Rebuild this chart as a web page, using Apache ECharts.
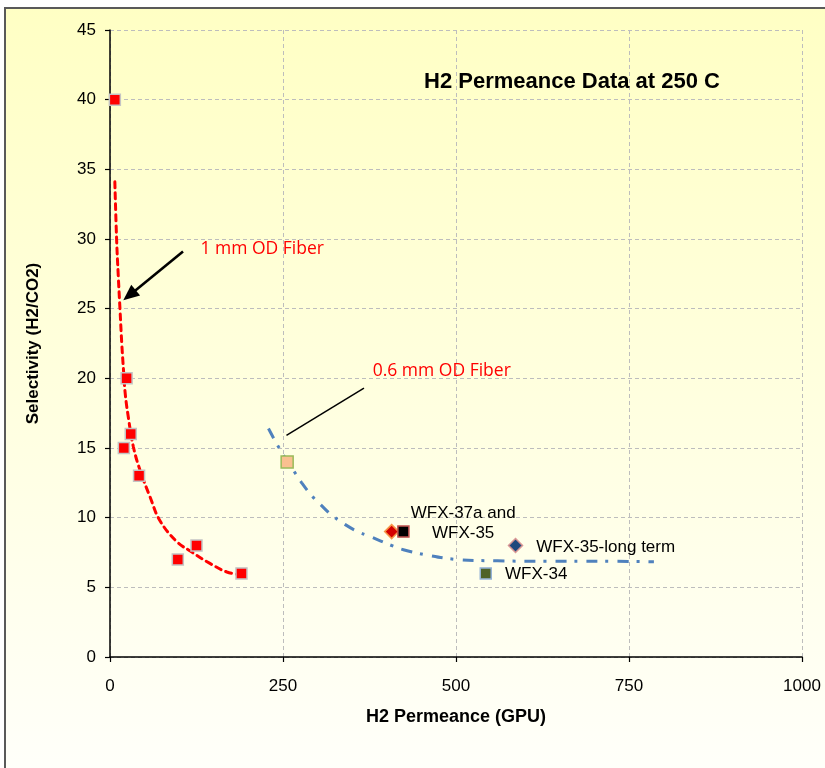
<!DOCTYPE html>
<html>
<head>
<meta charset="utf-8">
<script src="https://cdn.jsdelivr.net/npm/echarts@6/dist/echarts.min.js"></script>
<style>
  html, body { margin: 0; padding: 0; background: #ffffff; }
  #chart { width: 825px; height: 768px; }
</style>
</head>
<body>
<div id="chart"></div>
<script>
// Axis ranges and ticks
const xTicks = [0, 250, 500, 750, 1000];
const yTicks = [0, 5, 10, 15, 20, 25, 30, 35, 40, 45];

// 1 mm OD fiber measurements: H2 permeance (GPU) and H2/CO2 selectivity
const fiber1mmPermeance = [7, 24, 30, 20, 42, 98, 125, 190];
const fiber1mmSelectivity = [40, 20, 16, 15, 13, 7, 8, 6];

// Trend traced through the 1 mm fiber data
const trend1mmX = [7, 9.6, 12, 14.5, 17, 19.5, 22, 26.5, 33.7, 43.4, 57.8, 72, 96, 116, 145, 169, 189];
const trend1mmY = [34.1, 29.9, 27.3, 24.9, 22.5, 20.6, 18.9, 17.2, 15.1, 13.4, 11.5, 9.8, 8.3, 7.6, 6.7, 6.1, 5.9];

// 0.6 mm OD fiber samples
const sampleNames = ['0.6 mm', 'WFX-37a', 'WFX-35', 'WFX-35-long term', 'WFX-34'];
const samplePermeance = [256, 407, 424, 586, 543];
const sampleSelectivity = [14, 9, 9, 8, 6];

// Trend traced through the 0.6 mm fiber data
const trend06X = [229, 241, 253, 265, 277, 291, 305, 320, 340, 358, 376, 405, 424, 458, 501, 560, 630, 708, 786];
const trend06Y = [16.4, 15.3, 14.3, 13.4, 12.5, 11.6, 10.9, 10.2, 9.5, 9.0, 8.64, 8.04, 7.7, 7.32, 7.0, 6.9, 6.87, 6.87, 6.84];

const pair = (xs, ys) => xs.map((x, i) => [x, ys[i]]);

const FONT = '"Liberation Sans", Arial, sans-serif';
const NOTE_FONT = '"Open Sans", "Liberation Sans", sans-serif';

const chart = echarts.init(document.getElementById('chart'), null, { renderer: 'canvas' });

const sampleLabel = { color: '#000', fontFamily: FONT, fontSize: 17 };

const option = {
  backgroundColor: '#ffffff',
  animation: false,
  title: {
    text: 'H2 Permeance Data at 250 C',
    left: 424,
    top: 71,
    padding: 0,
    textStyle: { fontFamily: FONT, fontSize: 22, fontWeight: 'bold', color: '#000' }
  },
  grid: { left: 110, right: 23, top: 30, bottom: 111, containLabel: false },
  xAxis: {
    type: 'value',
    min: xTicks[0],
    max: xTicks[xTicks.length - 1],
    interval: xTicks[1] - xTicks[0],
    name: 'H2 Permeance (GPU)',
    nameLocation: 'middle',
    nameGap: 51,
    nameTextStyle: { fontFamily: FONT, fontSize: 18, fontWeight: 'bold', color: '#000' },
    axisLine: { show: true, onZero: false, lineStyle: { color: '#000', width: 1.5 } },
    axisTick: { show: true, inside: false, length: 5, lineStyle: { color: '#000', width: 1.2 } },
    axisLabel: { margin: 21, fontFamily: FONT, fontSize: 17, color: '#000', formatter: (v) => String(v) },
    splitLine: { show: true, lineStyle: { color: '#BDBDBD', type: [4, 3], width: 1 } }
  },
  yAxis: {
    type: 'value',
    min: yTicks[0],
    max: yTicks[yTicks.length - 1],
    interval: yTicks[1] - yTicks[0],
    name: 'Selectivity (H2/CO2)',
    nameLocation: 'middle',
    nameRotate: 90,
    nameGap: 68,
    nameTextStyle: { fontFamily: FONT, fontSize: 17, fontWeight: 'bold', color: '#000' },
    axisLine: { show: true, onZero: false, lineStyle: { color: '#000', width: 1.5 } },
    axisTick: { show: true, inside: false, length: 5, lineStyle: { color: '#000', width: 1.2 } },
    axisLabel: { margin: 14, fontFamily: FONT, fontSize: 17, color: '#000', formatter: (v) => String(v) },
    splitLine: { show: true, lineStyle: { color: '#BDBDBD', type: [4, 3], width: 1 } }
  },
  series: [
    {
      name: '1 mm trend',
      type: 'line',
      data: pair(trend1mmX, trend1mmY),
      smooth: 0.4,
      showSymbol: false,
      z: 3,
      lineStyle: { color: '#FF0000', width: 3, type: [6, 5], cap: 'round' }
    },
    {
      name: '0.6 mm trend',
      type: 'line',
      data: pair(trend06X, trend06Y),
      smooth: 0.4,
      showSymbol: false,
      z: 3,
      lineStyle: { color: '#4F81BD', width: 3, type: [11, 8, 3, 9], cap: 'butt' }
    },
    {
      name: '1 mm OD Fiber',
      type: 'scatter',
      data: pair(fiber1mmPermeance, fiber1mmSelectivity),
      symbol: 'rect',
      symbolSize: 11,
      z: 5,
      itemStyle: { color: '#FF0000', borderColor: '#C4C4C4', borderWidth: 1.5, opacity: 1 }
    },
    {
      name: sampleNames[0],
      type: 'scatter',
      data: [[samplePermeance[0], sampleSelectivity[0]]],
      symbol: 'rect',
      symbolSize: 12,
      z: 4,
      itemStyle: { color: '#FAC090', borderColor: '#9BBB59', borderWidth: 1.5, opacity: 1 }
    },
    {
      name: sampleNames[1],
      type: 'scatter',
      data: [[samplePermeance[1], sampleSelectivity[1]]],
      symbol: 'diamond',
      symbolSize: 14,
      z: 5,
      itemStyle: { color: '#D40000', borderColor: '#F79646', borderWidth: 1.5, opacity: 1 }
    },
    {
      name: sampleNames[2],
      type: 'scatter',
      data: [[samplePermeance[2], sampleSelectivity[2]]],
      symbol: 'rect',
      symbolSize: 11,
      z: 5,
      itemStyle: { color: '#000000', borderColor: '#C0504D', borderWidth: 1.5, opacity: 1 },
      label: {
        show: true,
        formatter: sampleNames[1] + ' and\n' + sampleNames[2],
        position: [66, -2],
        align: 'center',
        verticalAlign: 'middle',
        lineHeight: 20,
        ...sampleLabel
      }
    },
    {
      name: sampleNames[3],
      type: 'scatter',
      data: [[samplePermeance[3], sampleSelectivity[3]]],
      symbol: 'diamond',
      symbolSize: 14,
      z: 5,
      itemStyle: { color: '#1F497D', borderColor: '#D99694', borderWidth: 1.5, opacity: 1 },
      label: { show: true, formatter: sampleNames[3], position: 'right', distance: 13, offset: [0, 2], ...sampleLabel }
    },
    {
      name: sampleNames[4],
      type: 'scatter',
      data: [[samplePermeance[4], sampleSelectivity[4]]],
      symbol: 'rect',
      symbolSize: 11,
      z: 5,
      itemStyle: { color: '#4F6228', borderColor: '#95B3D7', borderWidth: 1.5, opacity: 1 },
      label: { show: true, formatter: sampleNames[4], position: 'right', distance: 13, offset: [0, 1], ...sampleLabel }
    }
  ]
};

chart.setOption(option);

// Callouts, placed in data coordinates and converted through the grid
const toPx = (p) => chart.convertToPixel({ gridIndex: 0 }, p);

function arrow(from, to, width, head) {
  const a = toPx(from), b = toPx(to);
  const dx = b[0] - a[0], dy = b[1] - a[1];
  const len = Math.hypot(dx, dy);
  const ux = dx / len, uy = dy / len;
  const bx = b[0] - ux * head.length, by = b[1] - uy * head.length;
  const px = -uy * head.half, py = ux * head.half;
  return [
    { type: 'line', z: 10, shape: { x1: a[0], y1: a[1], x2: bx + ux * 2, y2: by + uy * 2 },
      style: { stroke: '#000', lineWidth: width } },
    { type: 'polygon', z: 10, shape: { points: [[b[0], b[1]], [bx + px, by + py], [bx - px, by - py]] },
      style: { fill: '#000' } }
  ];
}

function leader(from, to, width) {
  const a = toPx(from), b = toPx(to);
  return { type: 'line', z: 10, shape: { x1: a[0], y1: a[1], x2: b[0], y2: b[1] },
    style: { stroke: '#000', lineWidth: width } };
}

function note(text, at) {
  const p = toPx(at);
  return { type: 'text', z: 10, x: p[0], y: p[1],
    style: { text: text, fill: '#FF0000', font: '17.5px ' + NOTE_FONT, textAlign: 'left', textVerticalAlign: 'middle' } };
}

chart.setOption({
  graphic: [
    {
      type: 'rect',
      z: -10,
      silent: true,
      shape: { x: 5, y: 8, width: 840, height: 780 },
      style: {
        fill: new echarts.graphic.LinearGradient(0, 0, 0, 1, [
          { offset: 0, color: '#FFFFC4' },
          { offset: 0.55, color: '#FFFFE2' },
          { offset: 1, color: '#FFFFFB' }
        ]),
        stroke: '#595959',
        lineWidth: 2
      }
    },
    ...arrow([105.5, 29.1], [19.2, 25.6], 2.6, { length: 16, half: 7 }),
    leader([255, 15.9], [367, 19.3], 1.5),
    note('1 mm OD Fiber', [130.6, 29.25]),
    note('0.6 mm OD Fiber', [379.6, 20.5])
  ]
});
</script>
</body>
</html>
